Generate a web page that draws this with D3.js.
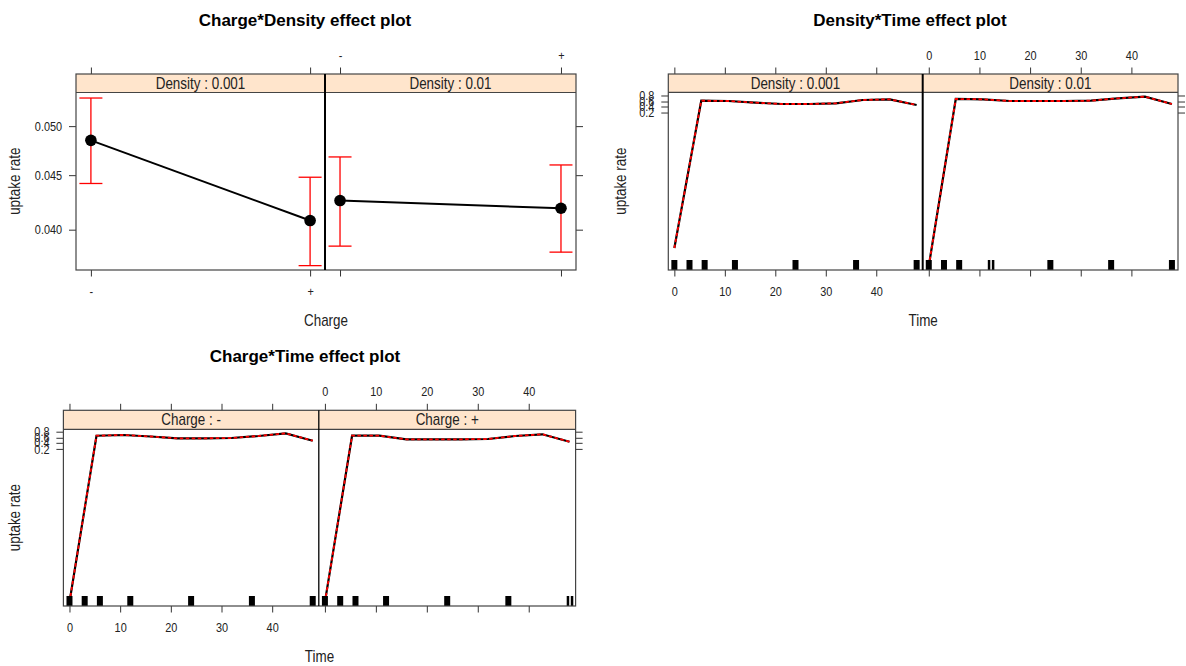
<!DOCTYPE html>
<html>
<head>
<meta charset="utf-8">
<script src="https://cdn.jsdelivr.net/npm/d3@7"></script>
<style>
  body { margin: 0; background: #fff; }
  svg { display: block; font-family: "Liberation Sans", Arial, sans-serif; }
</style>
</head>
<body>
<div id="vis"></div>
<script>
// ---- data ----
const chargeLevels = ["-", "+"];
const densityLevels = ["0.001", "0.01"];

// Charge*Density: fitted uptake rate and 95% limits, one array per density
const cdFit001 = [0.0485, 0.0408];
const cdLow001 = [0.0442, 0.0370];
const cdUp001 = [0.0531, 0.0448];
const cdFit01 = [0.0426, 0.0419];
const cdLow01 = [0.0386, 0.0381];
const cdUp01 = [0.0468, 0.0460];
const cdTicks = [0.040, 0.045, 0.050];

// time grid used for the effect lines
const timeGrid = [0, 5.33, 10.67, 16, 21.33, 26.67, 32, 37.33, 42.67, 48];
const dtFit001 = [6.8e-11, 0.632, 0.620, 0.554, 0.501, 0.501, 0.529, 0.658, 0.683, 0.460];
const dtFit01 = [3.6e-12, 0.694, 0.683, 0.620, 0.620, 0.620, 0.632, 0.717, 0.767, 0.501];
const ctFitMinus = [4.7e-12, 0.677, 0.701, 0.648, 0.580, 0.580, 0.592, 0.667, 0.755, 0.484];
const ctFitPlus = [4.7e-12, 0.677, 0.677, 0.540, 0.540, 0.540, 0.552, 0.667, 0.725, 0.443];

const timeTicks = [0, 10, 20, 30, 40];
const probTicks = [0.2, 0.4, 0.6, 0.8];

// observed times for the rugs
const rugDt001 = [0, 3, 6, 12, 24, 36, 48];
const rugDt01 = [0, 3, 6, 11.9, 12.7, 24, 36, 48];
const rugCtMinus = [0, 3, 6, 12, 24, 36, 48];
const rugCtPlus = [0, 3, 6, 12, 24, 36, 47.7, 48.5];

const logit = p => Math.log(p / (1 - p));

// the R device text is narrow, so squeeze it sideways
const SQ = 0.84;
const TICK_SIZE = "13px";
const LAB_SIZE = "16px";

const svg = d3.select("#vis").append("svg")
  .attr("width", 1186)
  .attr("height", 666);

svg.append("rect").attr("width", 1186).attr("height", 666).attr("fill", "#fff");

function styleAxis(g) {
  g.select(".domain").remove();
  g.selectAll(".tick line").attr("stroke", "#333").attr("stroke-width", 1);
  g.selectAll(".tick text")
    .attr("fill", "#222")
    .attr("font-size", TICK_SIZE)
    .attr("transform", `scale(${SQ},1)`);
}

// narrow text placed at (x, y)
function label(g, x, y, txt, size, rot) {
  return g.append("text")
    .attr("transform", `translate(${x},${y})${rot ? " rotate(-90)" : ""} scale(${SQ},1)`)
    .attr("text-anchor", "middle")
    .attr("font-size", size)
    .attr("fill", "#222")
    .text(txt);
}

function drawChart(o) {
  const g = svg.append("g");
  const edges = [o.x0, o.x1, o.x2];
  const stripBottom = o.top + o.stripH;

  const y = d3.scaleLinear()
    .domain(o.yDomain)
    .range([o.bottom, stripBottom]);

  o.panels.forEach((p, i) => {
    const left = edges[i], right = edges[i + 1];
    let x;
    if (o.type === "factor") {
      x = d3.scalePoint().domain(chargeLevels).range([left, right]).padding(0.068);
    } else {
      x = d3.scaleLinear().domain([-1.2, 49.2]).range([left, right]);
    }

    // strip
    g.append("rect")
      .attr("x", left).attr("y", o.top)
      .attr("width", right - left).attr("height", o.stripH)
      .attr("fill", "#ffe5cc");
    label(g, (left + right) / 2, o.top + o.stripH / 2 + 5.5, p.strip, LAB_SIZE, false);

    // axes
    const tv = o.type === "factor" ? chargeLevels : timeTicks;
    const topAx = d3.axisTop(x).tickSize(6.5).tickPadding(7.5);
    const botAx = d3.axisBottom(x).tickSize(6.5).tickPadding(10);
    if (o.type !== "factor") { topAx.tickValues(tv); botAx.tickValues(tv); }
    if (i === 0) topAx.tickFormat("");
    if (i === 1) botAx.tickFormat("");
    g.append("g").attr("transform", `translate(0,${o.top})`).call(topAx).call(styleAxis);
    g.append("g").attr("transform", `translate(0,${o.bottom})`).call(botAx).call(styleAxis);

    if (i === 0) {
      const la = d3.axisLeft(y)
        .tickValues(o.yTicks.map(logit))
        .tickFormat((d, k) => o.yFmt(o.yTicks[k]))
        .tickSize(7).tickPadding(9.5);
      g.append("g").attr("transform", `translate(${left},0)`).call(la).call(styleAxis);
    } else {
      const ra = d3.axisRight(y)
        .tickValues(o.yTicks.map(logit))
        .tickFormat("")
        .tickSize(7);
      g.append("g").attr("transform", `translate(${right},0)`).call(ra).call(styleAxis);
    }

    // marks
    if (o.type === "factor") {
      const rows = chargeLevels.map((c, k) => ({ c: c, fit: p.fit[k], lo: p.lo[k], hi: p.hi[k] }));
      const line = d3.line().x(d => x(d.c)).y(d => y(logit(d.fit)));
      g.append("path").datum(rows)
        .attr("d", line)
        .attr("fill", "none")
        .attr("stroke", "#000")
        .attr("stroke-width", 2);
      rows.forEach(d => {
        const cx = x(d.c);
        g.append("line")
          .attr("x1", cx).attr("x2", cx)
          .attr("y1", y(logit(d.lo))).attr("y2", y(logit(d.hi)))
          .attr("stroke", "#f00").attr("stroke-width", 1.3);
        [d.lo, d.hi].forEach(v => {
          g.append("line")
            .attr("x1", cx - 11.5).attr("x2", cx + 11.5)
            .attr("y1", y(logit(v))).attr("y2", y(logit(v)))
            .attr("stroke", "#f00").attr("stroke-width", 1.3);
        });
      });
      g.selectAll(null).data(rows).enter().append("circle")
        .attr("cx", d => x(d.c))
        .attr("cy", d => y(logit(d.fit)))
        .attr("r", 5.8)
        .attr("fill", "#000");
    } else {
      const rows = timeGrid.map((t, k) => ({ t: t, v: p.fit[k] }));
      const line = d3.line().x(d => x(d.t)).y(d => y(logit(d.v)));
      g.append("path").datum(rows)
        .attr("d", line)
        .attr("fill", "none")
        .attr("stroke", "#000")
        .attr("stroke-width", 2.2);
      // confidence limits sit on top of the fit at this scale
      g.append("path").datum(rows)
        .attr("d", line)
        .attr("fill", "none")
        .attr("stroke", "#f00")
        .attr("stroke-width", 1.8)
        .attr("stroke-dasharray", "3.5,2.5");

      // rug
      const rug = p.rug;
      rug.forEach((t, k) => {
        const near = rug.some((u, j) => j !== k && Math.abs(u - t) < 2);
        const w = near ? 2.5 : 6;
        g.append("rect")
          .attr("x", x(t) - w / 2)
          .attr("y", o.bottom - 10)
          .attr("width", w)
          .attr("height", 10)
          .attr("fill", "#000");
      });
    }
  });

  // frames
  g.append("rect")
    .attr("x", o.x0).attr("y", o.top)
    .attr("width", o.x2 - o.x0).attr("height", o.bottom - o.top)
    .attr("fill", "none")
    .attr("stroke", "#444")
    .attr("stroke-width", 1.2);
  g.append("line")
    .attr("x1", o.x0).attr("x2", o.x2)
    .attr("y1", stripBottom).attr("y2", stripBottom)
    .attr("stroke", "#444").attr("stroke-width", 1.2);
  g.append("line")
    .attr("x1", o.x1).attr("x2", o.x1)
    .attr("y1", o.top).attr("y2", o.bottom)
    .attr("stroke", "#000").attr("stroke-width", o.divW);

  // titles and labels
  g.append("text")
    .attr("x", o.titleX).attr("y", o.titleY)
    .attr("text-anchor", "middle")
    .attr("font-size", "17px")
    .attr("font-weight", "bold")
    .attr("fill", "#000")
    .text(o.title);
  label(g, (o.x0 + o.x2) / 2, o.bottom + 56, o.xLabel, LAB_SIZE, false);
  label(g, o.ylabX, (stripBottom + o.bottom) / 2, "uptake rate", LAB_SIZE, true);
}

drawChart({
  type: "factor",
  title: "Charge*Density effect plot", titleX: 305, titleY: 26,
  xLabel: "Charge", ylabX: 20,
  x0: 76, x1: 325, x2: 576, top: 74, stripH: 18.5, bottom: 270, divW: 2,
  yDomain: [logit(0.03665), logit(0.05373)],
  yTicks: cdTicks, yFmt: d3.format(".3f"),
  panels: [
    { strip: "Density : " + densityLevels[0], fit: cdFit001, lo: cdLow001, hi: cdUp001 },
    { strip: "Density : " + densityLevels[1], fit: cdFit01, lo: cdLow01, hi: cdUp01 }
  ]
});

drawChart({
  type: "time",
  title: "Density*Time effect plot", titleX: 910, titleY: 26,
  xLabel: "Time", ylabX: 626,
  x0: 668.3, x1: 922.7, x2: 1178, top: 74, stripH: 18.3, bottom: 270, divW: 2,
  yDomain: [-26.99, 1.906],
  yTicks: probTicks, yFmt: d3.format(".1f"),
  panels: [
    { strip: "Density : " + densityLevels[0], fit: dtFit001, rug: rugDt001 },
    { strip: "Density : " + densityLevels[1], fit: dtFit01, rug: rugDt01 }
  ]
});

drawChart({
  type: "time",
  title: "Charge*Time effect plot", titleX: 305, titleY: 362,
  xLabel: "Time", ylabX: 20,
  x0: 63.4, x1: 318.8, x2: 575.6, top: 410.3, stripH: 19, bottom: 606, divW: 1.3,
  yDomain: [-26.7, 1.773],
  yTicks: probTicks, yFmt: d3.format(".1f"),
  panels: [
    { strip: "Charge : " + chargeLevels[0], fit: ctFitMinus, rug: rugCtMinus },
    { strip: "Charge : " + chargeLevels[1], fit: ctFitPlus, rug: rugCtPlus }
  ]
});
</script>
</body>
</html>
